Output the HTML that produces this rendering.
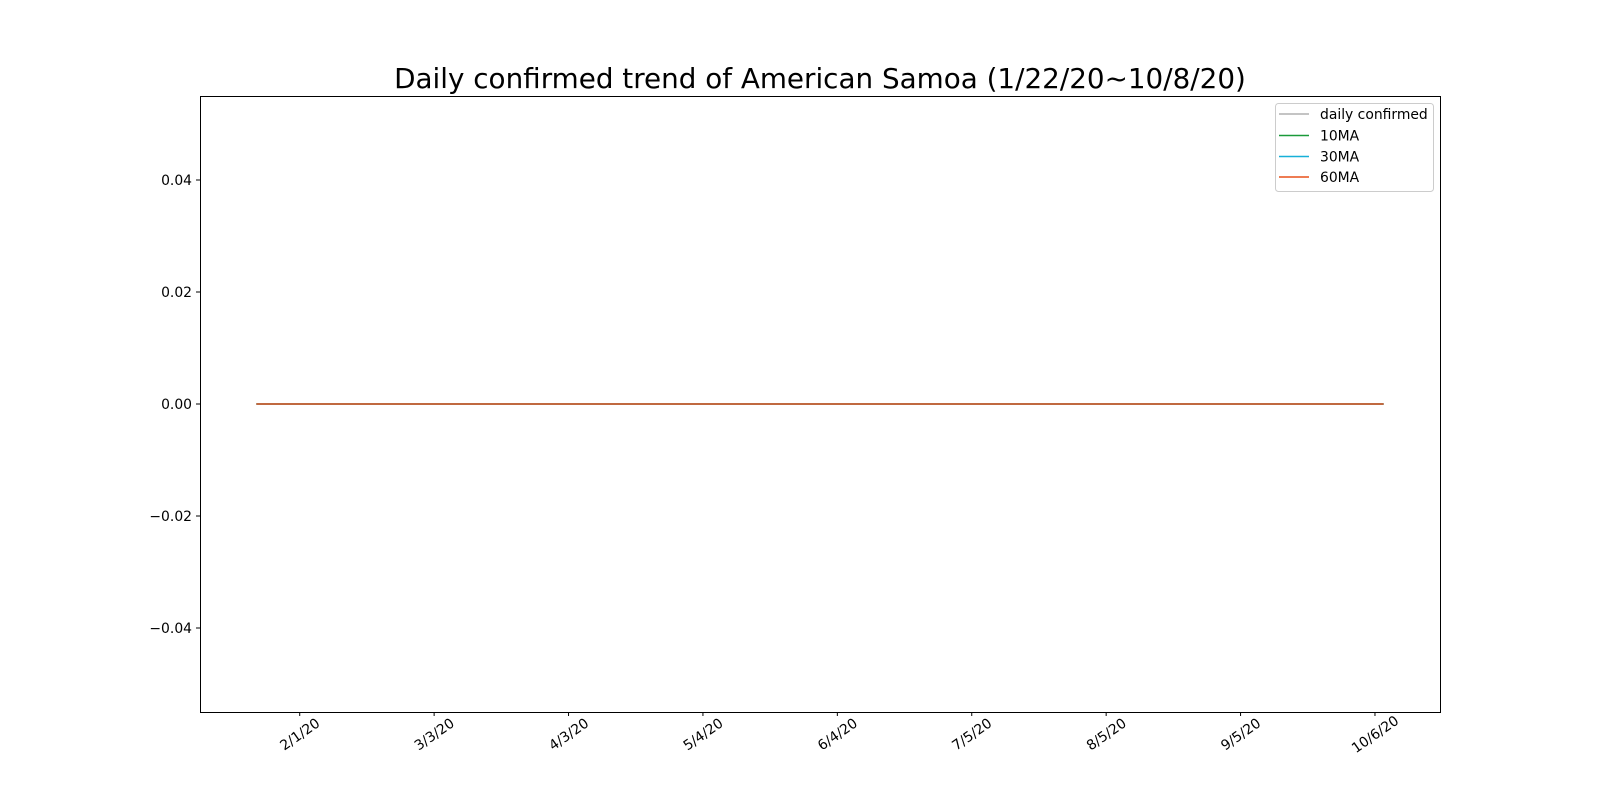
<!DOCTYPE html>
<html><head><meta charset="utf-8"><style>
body{margin:0;background:#fff}
svg{display:block;font-family:"DejaVu Sans","Liberation Sans",sans-serif}
</style></head><body>
<svg id="chart" width="1600" height="800">
<text x="820" y="88" text-anchor="middle" font-size="27.8" fill="#000">Daily confirmed trend of American Samoa (1/22/20~10/8/20)</text>
<rect x="200.5" y="96.5" width="1240" height="616" fill="none" stroke="#000" stroke-width="1"/>
<g id="yaxis"></g>
<g id="xaxis"></g>
<g id="series"></g>
<g>
<rect x="1275.5" y="103.5" width="158" height="88" rx="3" fill="#fff" stroke="#ccc"/>
<g><line x1="1279" y1="114" x2="1309" y2="114" stroke="#b0b0b0" stroke-width="1.5"/><text x="1320" y="119" font-size="13.9">daily confirmed</text></g>
<g><line x1="1279" y1="135.5" x2="1309" y2="135.5" stroke="#1a9a3a" stroke-width="1.5"/><text x="1320" y="140.5" font-size="13.9">10MA</text></g>
<g><line x1="1279" y1="156.5" x2="1309" y2="156.5" stroke="#17b0d8" stroke-width="1.5"/><text x="1320" y="161.5" font-size="13.9">30MA</text></g>
<g><line x1="1279" y1="177" x2="1309" y2="177" stroke="#e8501a" stroke-width="1.5"/><text x="1320" y="182" font-size="13.9">60MA</text></g>
</g>
</svg>
<script>
const dailyConfirmed = [
0,0,0,0,0,0,0,0,0,0,0,0,0,0,0,0,0,0,0,0,0,0,0,0,0,0,0,0,0,0,
0,0,0,0,0,0,0,0,0,0,0,0,0,0,0,0,0,0,0,0,0,0,0,0,0,0,0,0,0,0,
0,0,0,0,0,0,0,0,0,0,0,0,0,0,0,0,0,0,0,0,0,0,0,0,0,0,0,0,0,0,
0,0,0,0,0,0,0,0,0,0,0,0,0,0,0,0,0,0,0,0,0,0,0,0,0,0,0,0,0,0,
0,0,0,0,0,0,0,0,0,0,0,0,0,0,0,0,0,0,0,0,0,0,0,0,0,0,0,0,0,0,
0,0,0,0,0,0,0,0,0,0,0,0,0,0,0,0,0,0,0,0,0,0,0,0,0,0,0,0,0,0,
0,0,0,0,0,0,0,0,0,0,0,0,0,0,0,0,0,0,0,0,0,0,0,0,0,0,0,0,0,0,
0,0,0,0,0,0,0,0,0,0,0,0,0,0,0,0,0,0,0,0,0,0,0,0,0,0,0,0,0,0,
0,0,0,0,0,0,0,0,0,0,0,0,0,0,0,0,0,0,0,0,0];
const ma10 = dailyConfirmed.slice();
const ma30 = dailyConfirmed.slice();
const ma60 = dailyConfirmed.slice();
const xTickIndex = [10,41,72,103,134,165,196,227,258];
const xTickLabels = ["2/1/20","3/3/20","4/3/20","5/4/20","6/4/20","7/5/20","8/5/20","9/5/20","10/6/20"];
const yTicks = [-0.04,-0.02,0,0.02,0.04];
const yTickLabels = ["\u22120.04","\u22120.02","0.00","0.02","0.04"];

const NS="http://www.w3.org/2000/svg";
const n = dailyConfirmed.length;
const X0=200, X1=1440, Y0=96, Y1=712;
function xs(i){ const span=(n-1)*1.1; return X0 + (i + (n-1)*0.05)*(X1-X0)/span; }
function ys(v){ return Y1 - (v+0.055)*(Y1-Y0)/0.11; }
function mk(tag, attrs, parent){ const e=document.createElementNS(NS,tag); for(const k in attrs) e.setAttribute(k,attrs[k]); parent.appendChild(e); return e; }

const ya=document.getElementById('yaxis');
yTicks.forEach((t,k)=>{
  const y=ys(t);
  const l=mk('line',{x1:196,x2:200,y1:y,y2:y,stroke:'#000'},ya);
  
  
  const tx=mk('text',{x:192,y:y+5,'text-anchor':'end','font-size':13.9},ya);
  tx.textContent=yTickLabels[k];
  
  
});
const xa=document.getElementById('xaxis');
xTickIndex.forEach((i,k)=>{
  const x=xs(i);
  const l=mk('line',{x1:x,x2:x,y1:712,y2:716,stroke:'#000'},xa);
  
  
  const cy=734;
  const tx=mk('text',{x:x,y:cy+5,'text-anchor':'middle','font-size':13.9,transform:`rotate(-35 ${x} ${cy})`},xa);
  tx.textContent=xTickLabels[k];
  
  
});
const sg=document.getElementById('series');
[[dailyConfirmed,'#b0b0b0','daily-confirmed-line'],[ma10,'#1a9a3a','ma10-line'],[ma30,'#17b0d8','ma30-line'],[ma60,'#e8501a','ma60-line']].forEach(([arr,c,name])=>{
  const pts=arr.map((v,i)=>xs(i).toFixed(2)+','+ys(v).toFixed(2)).join(' ');
  const p=mk('polyline',{points:pts,fill:'none',stroke:c,'stroke-width':1.5},sg);
  
  
});
</script>
</body></html>
